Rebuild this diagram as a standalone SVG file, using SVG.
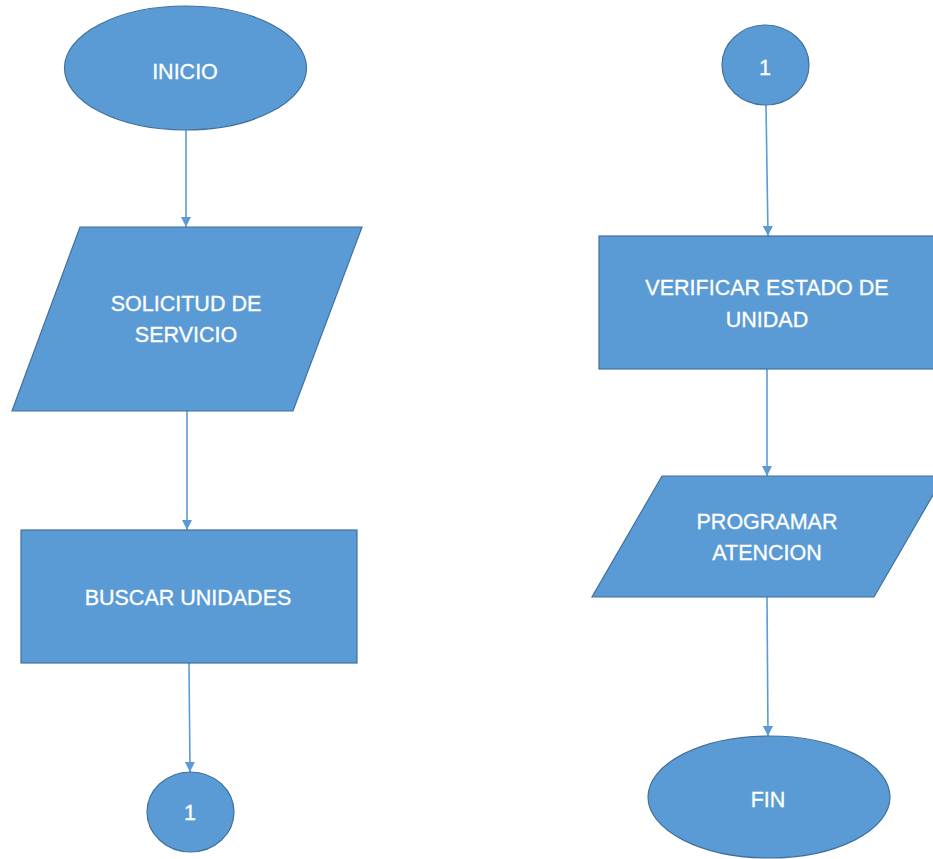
<svg xmlns="http://www.w3.org/2000/svg" width="933" height="859" viewBox="0 0 933 859">
  <defs>
    <style>
      .shape { fill: #5B9BD5; stroke: #41719C; stroke-width: 1.2; }
      .label { fill: #FFFFFF; font-family: "Liberation Sans", Arial, sans-serif; font-size: 21.5px; text-anchor: middle; stroke: #FFFFFF; stroke-width: 0.3; }
      .edge { fill: none; stroke: #5B9BD5; stroke-width: 1.6; marker-end: url(#arrow); }
    </style>
    <marker id="arrow" viewBox="0 0 10 10" refX="10" refY="5" markerWidth="10" markerHeight="10" markerUnits="userSpaceOnUse" orient="auto">
      <path d="M0,0 L10,5 L0,10 Z" fill="#5B9BD5"/>
    </marker>
  </defs>
  <rect width="933" height="859" fill="#FFFFFF"/>

  <!-- connectors -->
  <g id="connectors">
    <line class="edge" x1="186" y1="130" x2="186" y2="227"/>
    <line class="edge" x1="187" y1="411" x2="187" y2="530"/>
    <line class="edge" x1="189" y1="663" x2="190" y2="772"/>
    <line class="edge" x1="766" y1="105" x2="768" y2="236"/>
    <line class="edge" x1="767" y1="369" x2="767" y2="476"/>
    <line class="edge" x1="767" y1="597" x2="768" y2="736"/>
  </g>

  <!-- left column -->
  <g id="inicio">
    <ellipse class="shape" cx="185.5" cy="68" rx="121" ry="62"/>
    <text class="label" x="185" y="79">INICIO</text>
  </g>
  <g id="solicitud">
    <polygon class="shape" points="80,227 362,227 293,411 12,411"/>
    <text class="label" x="186" y="311">SOLICITUD DE</text>
    <text class="label" x="186" y="342">SERVICIO</text>
  </g>
  <g id="buscar">
    <rect class="shape" x="21" y="530" width="336" height="133"/>
    <text class="label" x="188" y="605">BUSCAR UNIDADES</text>
  </g>
  <g id="conector-1a">
    <ellipse class="shape" cx="190.5" cy="812" rx="43.5" ry="40"/>
    <text class="label" x="190" y="820">1</text>
  </g>

  <!-- right column -->
  <g id="conector-1b">
    <ellipse class="shape" cx="765.5" cy="65" rx="43.5" ry="40"/>
    <text class="label" x="765" y="75">1</text>
  </g>
  <g id="verificar">
    <rect class="shape" x="599" y="236" width="340" height="133"/>
    <text class="label" x="767" y="295">VERIFICAR ESTADO DE</text>
    <text class="label" x="767" y="327">UNIDAD</text>
  </g>
  <g id="programar">
    <polygon class="shape" points="662,476 944,476 874,597 592,597"/>
    <text class="label" x="767" y="529">PROGRAMAR</text>
    <text class="label" x="767" y="560">ATENCION</text>
  </g>
  <g id="fin">
    <ellipse class="shape" cx="769" cy="797" rx="121" ry="61"/>
    <text class="label" x="768" y="807">FIN</text>
  </g>
</svg>
